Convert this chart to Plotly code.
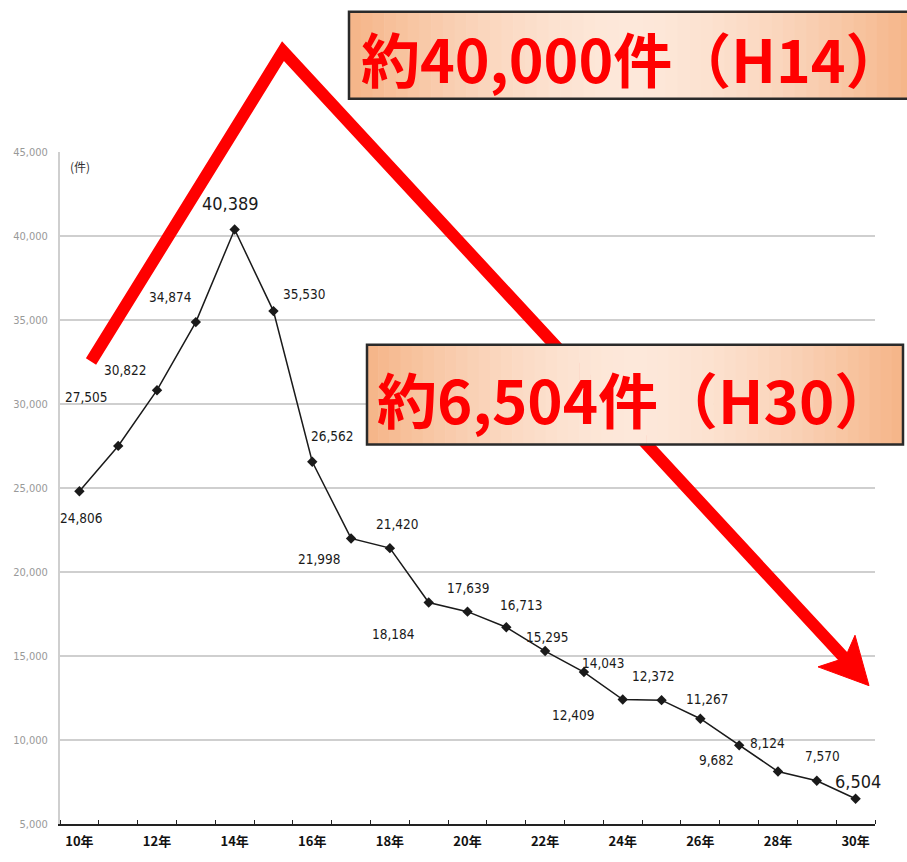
import plotly.graph_objects as go

# ---- data ----
years = [10, 11, 12, 13, 14, 15, 16, 17, 18, 19, 20, 21, 22, 23, 24, 25, 26, 27, 28, 29, 30]
counts = [24806, 27505, 30822, 34874, 40389, 35530, 26562, 21998, 21420, 18184, 17639,
          16713, 15295, 14043, 12409, 12372, 11267, 9682, 8124, 7570, 6504]
tick_years = [10, 12, 14, 16, 18, 20, 22, 24, 26, 28, 30]
tick_text = ["10年", "12年", "14年", "16年", "18年", "20年", "22年", "24年", "26年", "28年", "30年"]
box_texts = ["約40,000件（H14）", "約6,504件（H30）"]

# label offsets (pixels) relative to each point
label_dx = [2, -32, -32, -25, -4, 31, 20, -32, 7, -35, 0, 15, 2, 19, -50, -9, 7, -23, -10, 6, 2]
label_dy = [27, -49, -20, -25, -26, -17, -26, 21, -24, 31, -24, -22, -14, -9, 15, -24, -20, 15, -29, -25, -17]
big_label = {14, 30}

W, H = 907, 862
L, R, T, B = 60, 875, 152, 832

LABEL_FONT = "DejaVu Sans Condensed, Liberation Sans Narrow, Arial"


def X(px):
    return (px - L) / (R - L)


def Y(py):
    return (B - py) / (B - T)


fig = go.Figure()
fig.add_trace(go.Scatter(
    x=years, y=counts, mode="lines+markers",
    line=dict(color="#1a1a1a", width=1.5),
    marker=dict(symbol="diamond", size=8, color="#1a1a1a"),
    hoverinfo="skip", showlegend=False,
))

annotations = []
for yr, v, dx, dy in zip(years, counts, label_dx, label_dy):
    big = yr in big_label
    annotations.append(dict(
        x=yr, y=v, xref="x", yref="y", text=f"{v:,}", showarrow=False,
        xshift=dx, yshift=-dy, xanchor="center", yanchor="middle",
        font=dict(family=LABEL_FONT, size=18 if big else 13.5, color="#1a1a1a"),
    ))

annotations.append(dict(x=X(80), y=Y(167), xref="paper", yref="paper", text="(件)",
                        xanchor="center", yanchor="middle",
                        showarrow=False, font=dict(family="Noto Sans CJK JP", size=12, color="#333")))

shapes = []
# red arrow shaft
shapes.append(dict(type="path", xref="paper", yref="paper",
                   path=f"M {X(91)},{Y(364)} L {X(283)},{Y(50)} L {X(848)},{Y(668)}",
                   line=dict(color="#ff0000", width=12), layer="above"))
# arrow head
shapes.append(dict(type="path", xref="paper", yref="paper",
                   path=f"M {X(869)},{Y(692)} L {X(818)},{Y(673)} L {X(845)},{Y(664)} L {X(855)},{Y(641)} Z",
                   fillcolor="#ff0000", line=dict(color="#ff0000", width=1), layer="above"))


def lerp(c1, c2, t):
    return "rgb(%d,%d,%d)" % tuple(round(a + (b - a) * t) for a, b in zip(c1, c2))


def box(x0, y0, x1, y1):
    edge = (245, 180, 135)
    mid = (253, 232, 218)
    n = 48
    w = (x1 - x0) / n
    for i in range(n):
        t = abs((i + 0.5) / n - 0.5) * 2
        t = t ** 1.6
        shapes.append(dict(type="rect", xref="paper", yref="paper",
                           x0=X(x0 + i * w), x1=X(x0 + (i + 1) * w + 0.6), y0=Y(y1), y1=Y(y0),
                           fillcolor=lerp(mid, edge, t), line=dict(width=0), layer="above"))
    shapes.append(dict(type="rect", xref="paper", yref="paper",
                       x0=X(x0), x1=X(x1), y0=Y(y1), y1=Y(y0),
                       fillcolor="rgba(0,0,0,0)", line=dict(color="#2a2a2a", width=2.5), layer="above"))


box(349, 10, 912, 98)
box(367, 347, 903, 448)

annotations.append(dict(x=X(633), y=Y(56), xref="paper", yref="paper", text="<b>" + box_texts[0] + "</b>",
                        xanchor="center", yanchor="middle",
                        showarrow=False, font=dict(family="Noto Sans CJK JP", size=59, color="#ff0000")))
annotations.append(dict(x=X(635), y=Y(400), xref="paper", yref="paper", text="<b>" + box_texts[1] + "</b>",
                        xanchor="center", yanchor="middle",
                        showarrow=False, font=dict(family="Noto Sans CJK JP", size=60, color="#ff0000")))

fig.update_layout(
    width=W, height=H,
    margin=dict(l=L, r=W - R, t=T, b=H - B, pad=0),
    paper_bgcolor="white", plot_bgcolor="white",
    shapes=shapes, annotations=annotations,
    xaxis=dict(
        range=[9.5, 30.5], tickmode="array", tickvals=tick_years,
        ticktext=["<b>" + t + "</b>" for t in tick_text],
        tickfont=dict(family="Noto Sans CJK JP", size=13, color="#111"),
        showgrid=False, zeroline=False, showline=True, linecolor="#222", linewidth=2,
        ticks="", ticklabelstandoff=4,
        minor=dict(tickmode="array", tickvals=[y + 0.5 for y in [9] + years],
                   ticks="inside", ticklen=4, tickcolor="#222", tickwidth=1),
    ),
    yaxis=dict(
        range=[5000, 45000], tickmode="array",
        tickvals=[5000, 10000, 15000, 20000, 25000, 30000, 35000, 40000, 45000],
        tickformat=",", tickfont=dict(family=LABEL_FONT, size=11, color="#999"),
        showgrid=True, gridcolor="#cfcfcf", gridwidth=2, zeroline=False,
        showline=True, linecolor="#cfcfcf", linewidth=2, ticks="", ticklabelstandoff=8,
    ),
)

fig.write_html("out.html", config={"displayModeBar": False},
               post_script="document.body.style.margin='0';")
